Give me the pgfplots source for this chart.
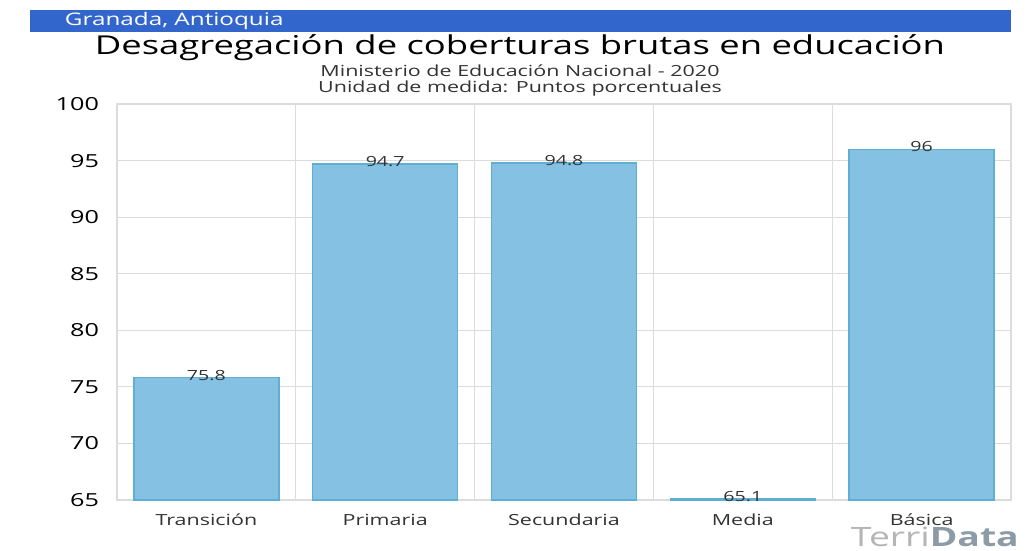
\documentclass[border=0pt]{standalone}
\usepackage{pgfplots}
\pgfplotsset{compat=1.18}
\usepackage{fontspec}
\setmainfont{Open Sans}[FakeStretch=1.4]
\definecolor{barfill}{HTML}{85C1E3}
\definecolor{bardraw}{HTML}{5FAFD4}
\definecolor{banner}{HTML}{3366CC}
\definecolor{gridc}{HTML}{DCDCDC}
\definecolor{txt}{HTML}{333333}
\definecolor{logoa}{HTML}{B5B5B5}
\definecolor{logob}{HTML}{8C9BA6}
\begin{document}
\begin{tikzpicture}
\fill[white] (0pt,0pt) rectangle (773.25pt,412.5pt);
% banner
\fill[banner] (22.5pt,388.5pt) rectangle (758.25pt,405pt);
\node[anchor=west,text=white,font=\fontsize{13}{15}\selectfont,inner sep=0pt] at (48.5pt,396.75pt) {Granada, Antioquia};
% titles
\node[text=black,font=\fontsize{19.5}{22}\selectfont,inner sep=0pt] at (390pt,376.5pt) {Desagregación de coberturas brutas en educación};
\node[text=txt,font=\fontsize{11.5}{13}\selectfont,inner sep=0pt] at (390pt,359.25pt) {Ministerio de Educación Nacional - 2020};
\node[text=txt,font=\fontsize{11.5}{13}\selectfont,inner sep=0pt] at (390pt,345.75pt) {Unidad de medida: Puntos porcentuales};
\begin{axis}[
  at={(87.75pt,37.5pt)}, anchor=south west,
  scale only axis, width=670.5pt, height=297pt,
  xmin=-0.5, xmax=4.5, ymin=65, ymax=100,
  ytick={65,70,...,100},
  xtick={0,1,2,3,4},
  xticklabels={Transición,Primaria,Secundaria,Media,Básica},
  minor xtick={-0.5,0.5,1.5,2.5,3.5,4.5},
  xmajorgrids=false, xminorgrids=true, ymajorgrids=true,
  grid style={gridc, line width=0.8pt},
  minor grid style={gridc, line width=0.8pt},
  axis line style={gridc, line width=0.8pt},
  major tick length=0pt, minor tick length=0pt,
  tick style={draw=none},
  yticklabel style={font=\fontsize{13.5}{16}\selectfont, text=black, xshift=-10pt},
  xticklabel style={font=\fontsize{11.5}{13}\selectfont, text=txt, yshift=-7pt},
  /pgf/number format/assume math mode=true,
  ybar, bar width=108.75pt,
  nodes near coords,
  nodes near coords style={font=\fontsize{10.5}{12}\selectfont, text=txt, anchor=base, yshift=-2pt},
  point meta=explicit symbolic,
]
\addplot[fill=barfill, draw=bardraw, line width=1pt] coordinates {
(0,75.8) [75.8]
(1,94.7) [94.7]
(2,94.8) [94.8]
(3,65.1) [65.1]
(4,96) [96]
};
\end{axis}
% logo
\node[anchor=west,inner sep=0pt,font=\fontsize{20}{24}\selectfont] at (638pt,9.5pt) {\textcolor{logoa}{Terri}\textcolor{logob}{\bfseries Data}};
\end{tikzpicture}
\end{document}
